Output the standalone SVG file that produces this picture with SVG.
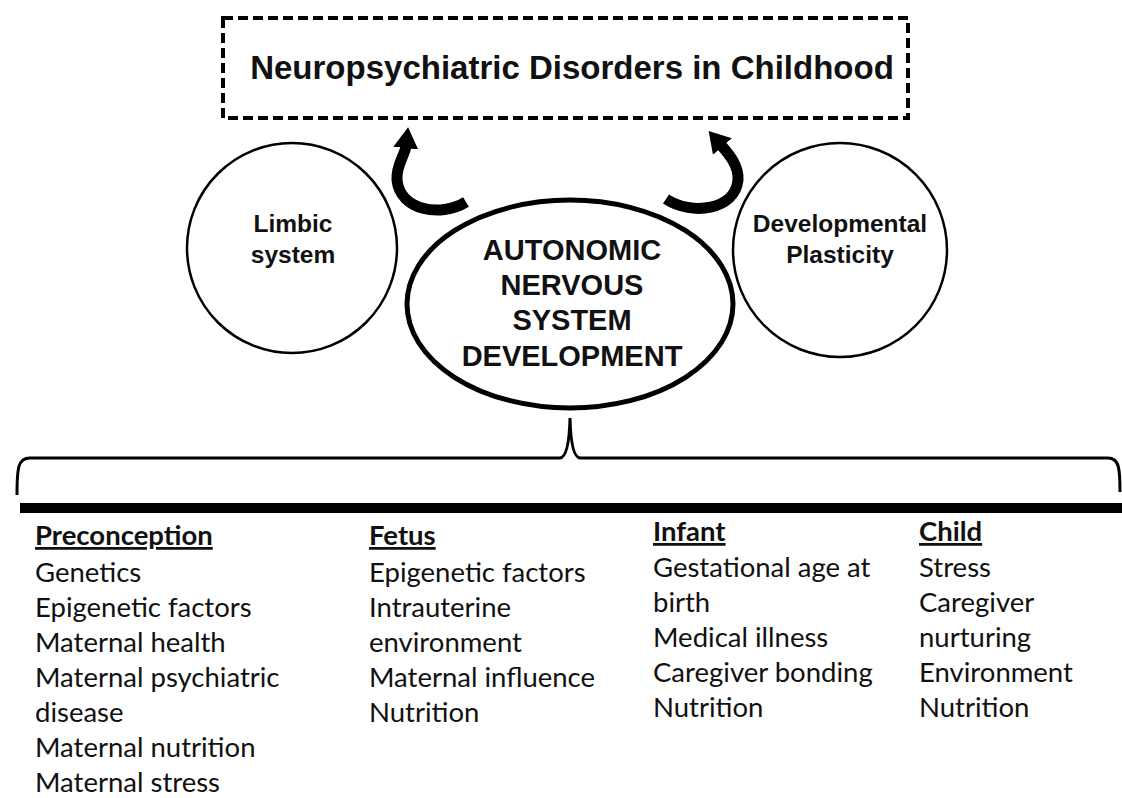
<svg xmlns="http://www.w3.org/2000/svg" width="1122" height="798" viewBox="0 0 1122 798">
<defs>
<style>
.hdr{font-family:"Liberation Sans",Arial,sans-serif;font-weight:bold;fill:#111;text-anchor:middle}
.lst{font-family:Lato,"Open Sans",sans-serif;font-size:27.5px;fill:#111}
.lst .h{font-weight:bold;text-decoration:underline}
.node{fill:#fff;stroke:#000}
.conn{fill:none;stroke:#000}
</style>
<marker id="head" markerUnits="userSpaceOnUse" viewBox="0 0 20 24" markerWidth="21" markerHeight="25" refX="2" refY="12" orient="auto">
<path d="M0,0 L20,12 L0,24 z" fill="#000"/>
</marker>
</defs>
<rect width="1122" height="798" fill="#fff"/>

<g id="title">
<rect x="223" y="18" width="685" height="100" fill="#fff" stroke="#000" stroke-width="4" stroke-dasharray="10 5"/>
<text class="hdr" x="572" y="79" font-size="33">Neuropsychiatric Disorders in Childhood</text>
</g>

<g id="connectors">
<path class="conn" stroke-width="11" d="M 466 202 C 440 218, 400 210, 397 180 C 396 165, 405 155, 406 146" marker-end="url(#head)"/>
<path class="conn" stroke-width="11" d="M 666 199 C 692 216, 735 210, 738 180 C 739 165, 728 153, 721 145" marker-end="url(#head)"/>
<path class="conn" stroke-width="3" d="M 17 495 C 17 468, 18 458, 30 458 L 560 458 Q 569 457, 570 418 Q 571 457, 580 458 L 1108 458 C 1119 458, 1120 468, 1120 492"/>
<rect x="20" y="503" width="1102" height="10" fill="#000"/>
</g>

<g id="limbic">
<circle class="node" cx="292" cy="248" r="105" stroke-width="2.5"/>
<text class="hdr" x="293" y="232" font-size="24.5">Limbic</text>
<text class="hdr" x="293" y="263" font-size="24.5">system</text>
</g>

<g id="plasticity">
<circle class="node" cx="840" cy="250" r="107" stroke-width="2.5"/>
<text class="hdr" x="840" y="232" font-size="24.5">Developmental</text>
<text class="hdr" x="840" y="263" font-size="24.5">Plasticity</text>
</g>

<g id="ans">
<ellipse class="node" cx="570" cy="304" rx="163" ry="104" stroke-width="5"/>
<text class="hdr" x="572" y="260" font-size="29">AUTONOMIC</text>
<text class="hdr" x="572" y="295" font-size="29">NERVOUS</text>
<text class="hdr" x="572" y="330" font-size="29">SYSTEM</text>
<text class="hdr" x="572" y="366" font-size="29">DEVELOPMENT</text>
</g>

<g id="preconception" class="lst">
<text x="35" y="545" class="h">Preconception</text>
<text x="35" y="582">Genetics</text>
<text x="35" y="617">Epigenetic factors</text>
<text x="35" y="652">Maternal health</text>
<text x="35" y="687">Maternal psychiatric</text>
<text x="35" y="722">disease</text>
<text x="35" y="757">Maternal nutrition</text>
<text x="35" y="792">Maternal stress</text>
</g>

<g id="fetus" class="lst">
<text x="369" y="545" class="h">Fetus</text>
<text x="369" y="582">Epigenetic factors</text>
<text x="369" y="617">Intrauterine</text>
<text x="369" y="652">environment</text>
<text x="369" y="687">Maternal influence</text>
<text x="369" y="722">Nutrition</text>
</g>

<g id="infant" class="lst">
<text x="653" y="541" class="h">Infant</text>
<text x="653" y="577">Gestational age at</text>
<text x="653" y="612">birth</text>
<text x="653" y="647">Medical illness</text>
<text x="653" y="682">Caregiver bonding</text>
<text x="653" y="717">Nutrition</text>
</g>

<g id="child" class="lst">
<text x="919" y="541" class="h">Child</text>
<text x="919" y="577">Stress</text>
<text x="919" y="612">Caregiver</text>
<text x="919" y="647">nurturing</text>
<text x="919" y="682">Environment</text>
<text x="919" y="717">Nutrition</text>
</g>
</svg>
